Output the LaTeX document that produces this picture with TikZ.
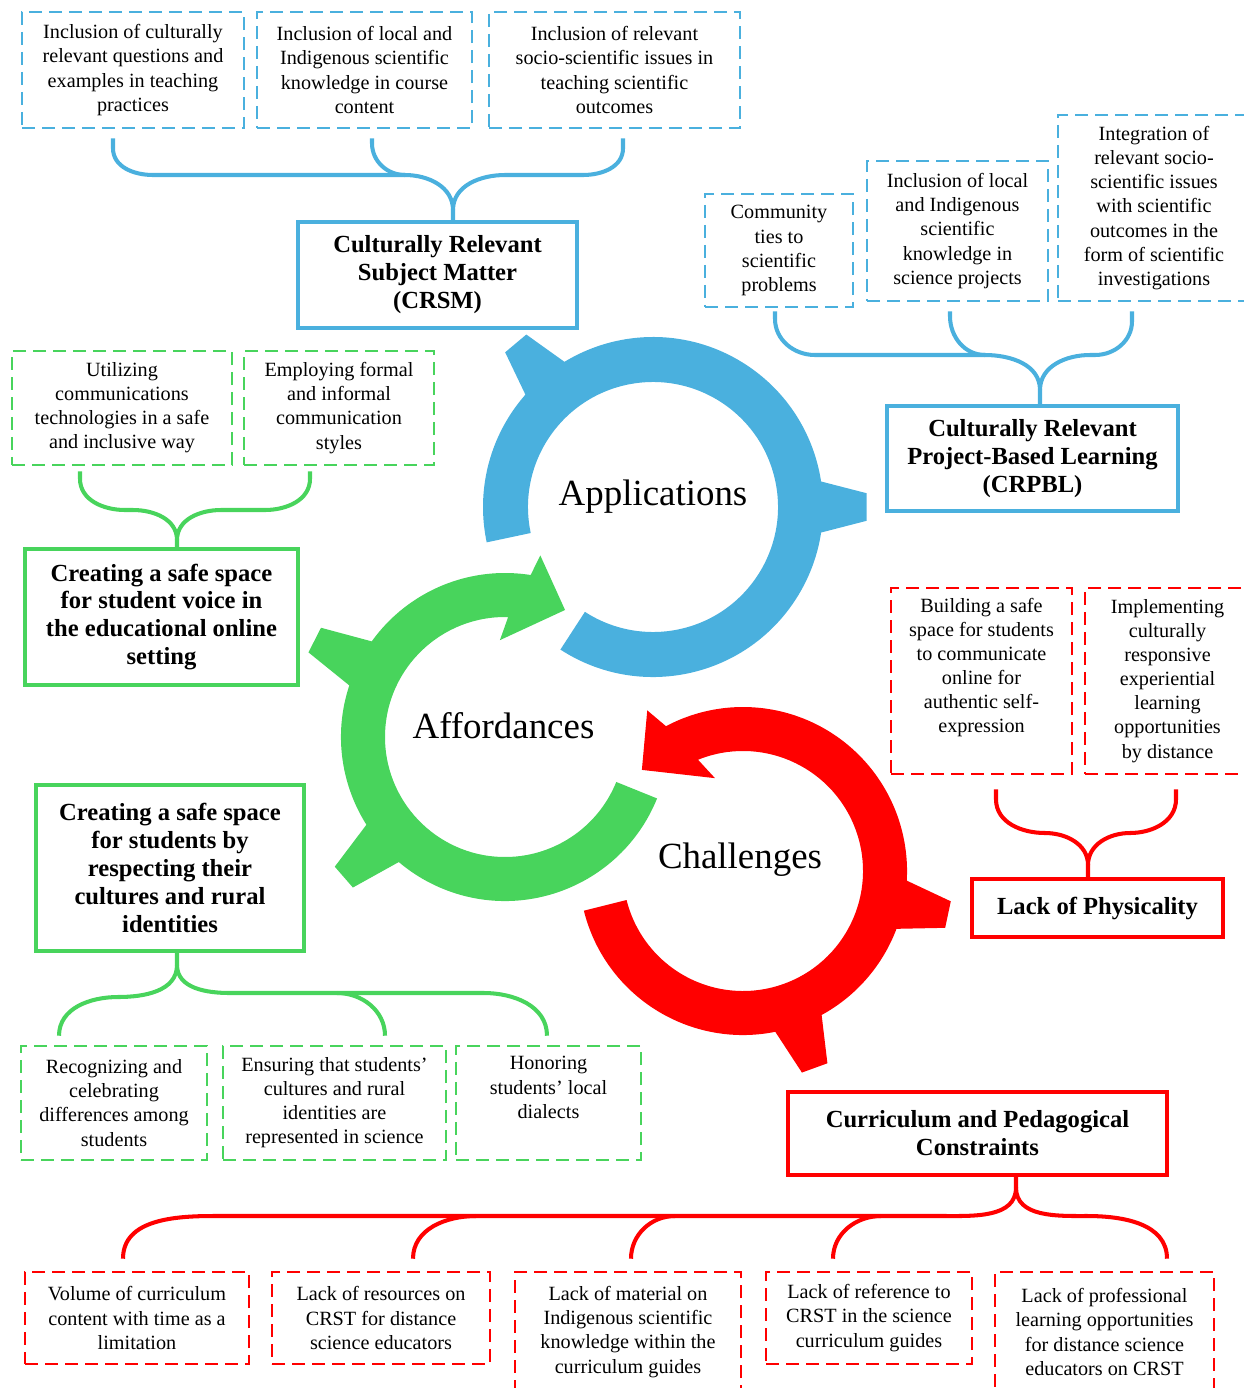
\documentclass[tikz,border=0pt]{standalone}
\usepackage{fontspec}
\setmainfont{Liberation Serif}
\usepackage{tikz}
\usetikzlibrary{calc}
\definecolor{appblue}{RGB}{74,176,222}
\definecolor{affgreen}{RGB}{72,212,92}
\definecolor{chalred}{RGB}{255,0,0}

\begin{document}
\begin{tikzpicture}[
    itembox/.style={draw,line width=1.5pt,dash pattern=on 0.26cm off 0.14cm,align=center,font=\fontsize{11.5}{13.7}\selectfont},
    themebox/.style={draw,line width=2.3pt,align=center,font=\fontsize{14}{15.9}\selectfont\bfseries},
    bracket/.style={line width=2.3pt},
    hublabel/.style={font=\fontsize{21}{25}\selectfont}
]
    \useasboundingbox (0,0) rectangle (24.88,-27.76);
    \clip (0,0) rectangle (24.88,-27.76);

    % Applications ring
    \begin{scope}[shift={(13.06,-10.14)}]
        \fill[appblue] (237:3.4) arc[start angle=237,end angle=552,radius=3.4] -- (192:2.5) arc[start angle=552,end angle=237,radius=2.5] -- cycle;
        \foreach \a in {0,130} {
            \fill[appblue] ({\a-9}:3.35) -- ({\a-3.7}:4.28) -- ({\a+3.7}:4.28) -- ({\a+9}:3.35) -- cycle;
        }
    \end{scope}

    % Affordances ring
    \begin{scope}[shift={(10.10,-14.74)}]
        \fill[affgreen] (-22:3.28) arc[start angle=-22,end angle=-279,radius=3.28] -- (79:3.70) -- (64.7:2.81) -- (93:1.94) -- (88.5:2.40) arc[start angle=-271.5,end angle=-22,radius=2.40] -- cycle;
        \foreach \a in {153,221} {
            \fill[affgreen] ({\a-9}:3.23) -- ({\a-3.7}:4.28) -- ({\a+3.7}:4.28) -- ({\a+9}:3.23) -- cycle;
        }
    \end{scope}

    % Challenges ring
    \begin{scope}[shift={(14.86,-17.42)}]
        \fill[chalred] (194:3.28) arc[start angle=194,end angle=478,radius=3.28] -- (120.8:3.74) -- (135:2.86) -- (106.8:1.94) -- (112:2.40) arc[start angle=472,end angle=194,radius=2.40] -- cycle;
        \foreach \a in {-12,-70} {
            \fill[chalred] ({\a-9}:3.23) -- ({\a-3.7}:4.20) -- ({\a+3.7}:4.20) -- ({\a+9}:3.23) -- cycle;
        }
    \end{scope}

    % Hub labels
    \node[hublabel] (apps) at (13.06,-9.94) {Applications};
    \node[hublabel] (affs) at (10.07,-14.52) {Affordances};
    \node[hublabel] (chals) at (14.80,-17.20) {Challenges};

    % CRSM
    \node[itembox,appblue,text=black,minimum width=4.44cm,minimum height=2.32cm] (b1) at (2.66,-1.40) {Inclusion of culturally\\relevant questions and\\examples in teaching\\practices};
    \node[itembox,appblue,text=black,minimum width=4.30cm,minimum height=2.32cm] (b2) at (7.29,-1.40) {Inclusion of local and\\Indigenous scientific\\knowledge in course\\content};
    \node[itembox,appblue,text=black,minimum width=5.02cm,minimum height=2.32cm] (b3) at (12.29,-1.40) {Inclusion of relevant\\socio-scientific issues in\\teaching scientific\\outcomes};
    \node[themebox,appblue,text=black,minimum width=5.58cm,minimum height=2.12cm] (crsm) at (8.75,-5.50) {Culturally Relevant\\Subject Matter\\(CRSM)};

    % CRPBL
    \node[itembox,appblue,text=black,minimum width=2.96cm,minimum height=2.26cm] (c1) at (15.58,-5.01) {Community\\ties to\\scientific\\problems};
    \node[itembox,appblue,text=black,minimum width=3.62cm,minimum height=2.80cm] (c2) at (19.15,-4.62) {Inclusion of local\\and Indigenous\\scientific\\knowledge in\\science projects};
    \node[itembox,appblue,text=black,minimum width=3.84cm,minimum height=3.72cm] (c3) at (23.08,-4.16) {Integration of\\relevant socio-\\scientific issues\\with scientific\\outcomes in the\\form of scientific\\investigations};
    \node[themebox,appblue,text=black,minimum width=5.82cm,minimum height=2.10cm] (crpbl) at (20.65,-9.17) {Culturally Relevant\\Project-Based Learning\\(CRPBL)};

    % Student voice
    \node[itembox,affgreen,text=black,minimum width=4.40cm,minimum height=2.28cm] (g1) at (2.44,-8.16) {Utilizing\\communications\\technologies in a safe\\and inclusive way};
    \node[itembox,affgreen,text=black,minimum width=3.80cm,minimum height=2.28cm] (g2) at (6.78,-8.16) {Employing formal\\and informal\\communication\\styles};
    \node[themebox,affgreen,text=black,minimum width=5.46cm,minimum height=2.72cm] (voice) at (3.23,-12.34) {Creating a safe space\\for student voice in\\the educational online\\setting};

    % Cultures and rural identities
    \node[themebox,affgreen,text=black,minimum width=5.36cm,minimum height=3.32cm] (cultures) at (3.40,-17.36) {Creating a safe space\\for students by\\respecting their\\cultures and rural\\identities};
    \node[itembox,affgreen,text=black,minimum width=3.72cm,minimum height=2.28cm] (gb1) at (2.28,-22.06) {Recognizing and\\celebrating\\differences among\\students};
    \node[itembox,affgreen,text=black,minimum width=4.46cm,minimum height=2.28cm] (gb2) at (6.69,-22.06) {Ensuring that students’\\cultures and rural\\identities are\\represented in science};
    \node[itembox,affgreen,text=black,minimum width=3.70cm,minimum height=2.28cm] (gb3) at (10.97,-22.06) {Honoring\\students’ local\\dialects\\\strut};

    % Lack of physicality
    \node[itembox,chalred,text=black,minimum width=3.62cm,minimum height=3.72cm] (r1) at (19.63,-13.62) {Building a safe\\space for students\\to communicate\\online for\\authentic self-\\expression\\\strut};
    \node[itembox,chalred,text=black,minimum width=3.30cm,minimum height=3.72cm] (r2) at (23.35,-13.62) {Implementing\\culturally\\responsive\\experiential\\learning\\opportunities\\by distance};
    \node[themebox,chalred,text=black,minimum width=5.02cm,minimum height=1.16cm] (phys) at (21.95,-18.16) {Lack of Physicality};

    % Curriculum constraints
    \node[themebox,chalred,text=black,minimum width=7.58cm,minimum height=1.66cm] (curr) at (19.55,-22.67) {Curriculum and Pedagogical\\Constraints};
    \node[itembox,chalred,text=black,minimum width=4.48cm,minimum height=1.84cm] (d1) at (2.74,-26.36) {Volume of curriculum\\content with time as a\\limitation};
    \node[itembox,chalred,text=black,minimum width=4.36cm,minimum height=1.84cm] (d2) at (7.62,-26.36) {Lack of resources on\\CRST for distance\\science educators};
    \node[itembox,chalred,text=black,minimum width=4.52cm,minimum height=2.40cm] (d3) at (12.56,-26.64) {Lack of material on\\Indigenous scientific\\knowledge within the\\curriculum guides};
    \node[itembox,chalred,text=black,minimum width=4.12cm,minimum height=1.84cm] (d4) at (17.38,-26.36) {Lack of reference to\\CRST in the science\\curriculum guides};
    \node[itembox,chalred,text=black,minimum width=4.38cm,minimum height=2.40cm] (d5) at (22.09,-26.64) {Lack of professional\\learning opportunities\\for distance science\\educators on CRST};

    % Braces, blue
    \draw[bracket,appblue] ($(b1.south)+(-0.40,-0.18)$) -- ++(0,-0.2) to[out=-90,in=180] (3.06,-3.5) -- (8.1,-3.5) to[out=0,in=90] (9.06,-4.2) -- ($(crsm.north)+(0.31,0)$);
    \draw[bracket,appblue] ($(b2.south)+(0.15,-0.18)$) -- ++(0,-0.1) to[out=-90,in=180] (8.1,-3.5);
    \draw[bracket,appblue] ($(b3.south)+(0.17,-0.18)$) -- ++(0,-0.2) to[out=-90,in=0] (11.66,-3.5) -- (10.1,-3.5) to[out=180,in=90] (9.06,-4.2);

    \draw[bracket,appblue] ($(c1.south)+(-0.08,-0.06)$) -- ++(0,-0.15) to[out=-90,in=180] (16.3,-7.1) -- (19.7,-7.1) to[out=0,in=90] (20.8,-7.8) -- ($(crpbl.north)+(0.15,0)$);
    \draw[bracket,appblue] ($(c2.south)+(-0.15,-0.18)$) -- ++(0,-0.1) to[out=-90,in=180] (19.7,-7.1);
    \draw[bracket,appblue] ($(c3.south)+(-0.44,-0.18)$) -- ++(0,-0.2) to[out=-90,in=0] (21.9,-7.1) -- (21.8,-7.1) to[out=180,in=90] (20.8,-7.8);

    % Braces, green
    \draw[bracket,affgreen] ($(g1.south)+(-0.84,-0.10)$) -- ++(0,-0.15) to[out=-90,in=180] (2.5,-10.2) -- (2.66,-10.2) to[out=0,in=90] (3.54,-10.8) -- ($(voice.north)+(0.31,0)$);
    \draw[bracket,affgreen] ($(g2.south)+(-0.58,-0.10)$) -- ++(0,-0.15) to[out=-90,in=0] (5.3,-10.2) -- (4.42,-10.2) to[out=180,in=90] (3.54,-10.8);

    \draw[bracket,affgreen] ($(cultures.south)+(0.14,0)$) -- (3.54,-19.3) to[out=-90,in=0] (2.36,-19.94) to[out=180,in=90] ($(gb1.north)+(-1.10,0.18)$);
    \draw[bracket,affgreen] (3.54,-19.3) to[out=-90,in=180] (4.6,-19.86) -- (9.68,-19.86) to[out=0,in=90] ($(gb3.north)+(-0.03,0.18)$);
    \draw[bracket,affgreen] (6.74,-19.86) to[out=0,in=90] ($(gb2.north)+(1.01,0.18)$);

    % Braces, red
    \draw[bracket,chalred] ($(r1.south)+(0.29,-0.28)$) -- ++(0,-0.2) to[out=-90,in=180] (20.9,-16.66) to[out=0,in=90] (21.76,-17.3) -- ($(phys.north)+(-0.19,0)$);
    \draw[bracket,chalred] ($(r2.south)+(0.17,-0.28)$) -- ++(0,-0.2) to[out=-90,in=0] (22.6,-16.66) to[out=180,in=90] (21.76,-17.3);

    \draw[bracket,chalred] ($(curr.south)+(0.77,0)$) -- (20.32,-23.75) to[out=-90,in=0] (18.88,-24.32) -- (4.28,-24.32) to[out=180,in=90] ($(d1.north)+(-0.28,0.24)$);
    \draw[bracket,chalred] (20.32,-23.75) to[out=-90,in=180] (21.74,-24.32) to[out=0,in=90] ($(d5.north)+(1.25,0.24)$);
    \foreach \x/\d/\o in {9.52/d2/0.64, 13.5/d3/0.06, 17.62/d4/-0.72} {
        \draw[bracket,chalred] (\x,-24.32) to[out=180,in=90] ($(\d.north)+(\o,0.24)$);
    }
\end{tikzpicture}
\end{document}
